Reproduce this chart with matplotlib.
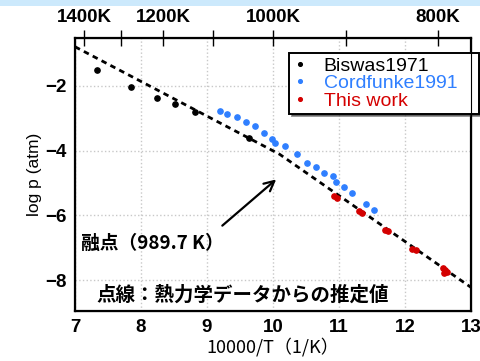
import matplotlib.pyplot as plt
from matplotlib.patches import Rectangle

# data
biswas_x = [7.34, 7.85, 8.24, 8.52, 8.82, 9.63]
biswas_y = [-1.51, -2.02, -2.36, -2.56, -2.81, -3.61]

cord_x = [9.20, 9.30, 9.45, 9.59, 9.73, 9.87, 9.99, 10.03, 10.18, 10.36, 10.52,
          10.65, 10.77, 10.91, 10.95, 11.08, 11.20, 11.41, 11.53]
cord_y = [-2.77, -2.86, -2.96, -3.12, -3.25, -3.46, -3.64, -3.76, -3.87, -4.10, -4.38,
          -4.50, -4.69, -4.77, -4.97, -5.12, -5.32, -5.64, -5.82]

work_x = [10.92, 10.97, 11.30, 11.35, 11.69, 11.74, 12.11, 12.16, 12.57, 12.60, 12.63, 12.59]
work_y = [-5.41, -5.45, -5.87, -5.91, -6.45, -6.48, -7.04, -7.07, -7.63, -7.69, -7.74, -7.78]

# thermodynamic estimate (kink at melting point)
est_x = [7.0, 10.1, 13.0]
est_y = [-0.79, -4.11, -8.22]

top_temps = [1400, 1300, 1200, 1100, 1000, 900, 800]
top_labels = ["1400K", "", "1200K", "", "1000K", "", "800K"]

plt.rcParams['font.family'] = ['Liberation Sans', 'Noto Sans CJK JP']
jp = ['Noto Sans CJK JP', 'DejaVu Sans']

fig = plt.figure(figsize=(4.8, 3.61), dpi=100)
fig.patches.append(Rectangle((0, 355 / 361), 1, 6 / 361, transform=fig.transFigure,
                             facecolor='#cce9fc', edgecolor='none'))
ax = fig.add_axes([75 / 480, 50 / 361, 396 / 480, 273 / 361])

ax.plot(est_x, est_y, color='black', lw=2, linestyle=(0, (2, 1.6)), zorder=2)
ax.plot(biswas_x, biswas_y, 'o', color='black', ms=3.8, label='Biswas1971', zorder=3)
ax.plot(cord_x, cord_y, 'o', color='#2f7fff', ms=3.8, label='Cordfunke1991', zorder=3)
ax.plot(work_x, work_y, 'o', color='#d40000', ms=3.8, label='This work', zorder=3)

ax.set_xlim(7, 13)
ax.set_ylim(-8.95, -0.52)
ax.set_xticks([7, 8, 9, 10, 11, 12, 13])
ax.set_yticks([-2, -4, -6, -8])
ax.tick_params(length=0, labelsize=13.5, pad=6)
for lab in ax.get_xticklabels() + ax.get_yticklabels():
    lab.set_fontweight('bold')
ax.grid(True, linestyle=':', color='#c8c8c8', lw=1)
for s in ax.spines.values():
    s.set_linewidth(1.6)

ax.set_xlabel('10000/T（1/K）', family=jp, fontsize=13, labelpad=1)
ax.set_ylabel('log p (atm)', fontsize=12.5, labelpad=2)

top = ax.twiny()
top.set_xlim(ax.get_xlim())
top.set_xticks([10000 / t for t in top_temps])
top.set_xticklabels(top_labels, fontsize=13.5, fontweight='bold')
top.tick_params(direction='inout', length=12, width=1, pad=3)

ax.annotate('', xy=(10.08, -4.83), xytext=(9.2, -6.37),
            arrowprops=dict(arrowstyle='->', lw=1.6, color='black', mutation_scale=18))
ax.text(7.09, -6.87, '融点（989.7 K）', family=jp, fontsize=13.5, fontweight='bold',
        va='center', ha='left')
ax.text(7.33, -8.47, '点線：熱力学データからの推定値', family=jp, fontsize=14,
        fontweight='bold', va='center', ha='left')

leg = ax.legend(loc='upper left', bbox_to_anchor=(0.54, 0.71, 0.48, 0.235), mode='expand',
                fontsize=14, frameon=True, fancybox=False, shadow={'color': '0.2'},
                handlelength=0.7, handletextpad=0.9, labelspacing=0.0,
                borderaxespad=0, borderpad=0.2, markerscale=0.7)
leg.get_frame().set_edgecolor('black')
leg.get_frame().set_linewidth(1.4)
for text, c in zip(leg.get_texts(), ['black', '#2f7fff', '#d40000']):
    text.set_color(c)

fig.savefig('out.png', dpi=100)
